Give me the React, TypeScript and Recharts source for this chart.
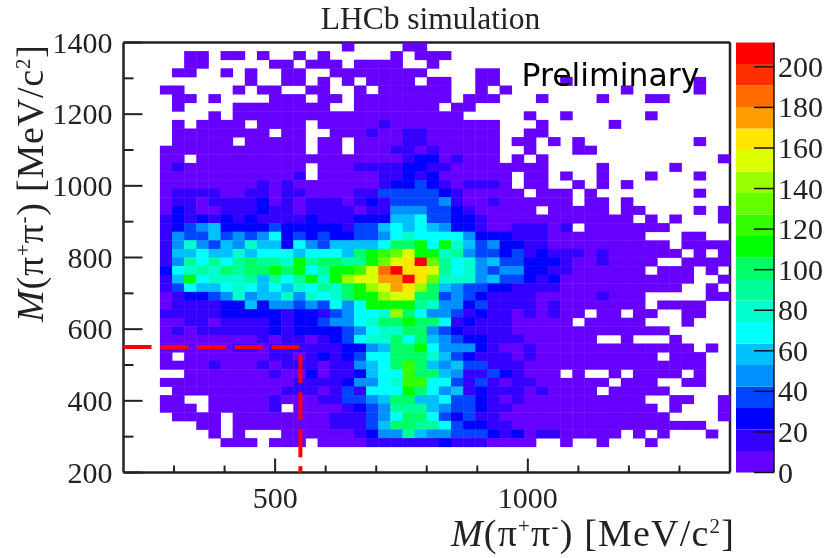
import { Bar, BarChart, Scatter, ScatterChart, XAxis, YAxis } from 'recharts';

// counts per bin, one array per row, named after the bin centre on the y axis (MeV)
// 24 MeV bins from 200 to 1400, columns left to right, 0 = empty bin
const m1388 = [0,0,0,0,0,0,0,0,0,0, 0,0,0,0,0,0,0,0,5,0, 0,0,0,5,5];
const m1364 = [0,0,0,0,0,5,5,0,5,5, 0,5,0,0,5,0,5,0,0,0, 0,0,5,0,5,5,5];
const m1340 = [0,0,0,0,0,5,5,0,0,0, 0,0,5,5,0,5,5,5,0,5, 5,5,5,0,0,5];
const m1316 = [0,0,0,0,5,5,0,0,5,0, 5,0,0,5,5,0,0,5,5,5, 5,5,5,5,5,0,0,0,0,5, 5];
const m1292 = [0,0,0,0,0,0,0,0,0,0, 5,0,0,5,5,0,5,0,5,0, 5,5,5,5,0,5,5,0,0,5, 5,0,0,0,0,0,5,0,0,0, 0,0,0,0,0,0,0,5];
const m1268 = [0,0,0,5,5,0,0,0,0,5, 0,5,5,0,0,5,5,0,0,5, 0,5,5,5,5,5,5,0,0,5, 0,5,0,0,0,0,0,0,0,0, 0,5,0,0,0,0,0,5];
const m1244 = [0,0,0,0,5,5,0,5,0,0, 0,0,5,5,5,0,5,5,0,5, 5,5,5,5,5,5,5,0,5,5, 5,0,0,0,5,0,0,0,0,5, 0,0,0,5,5];
const m1220 = [0,0,0,0,5,0,0,0,0,5, 5,5,5,5,5,5,5,0,0,5, 5,5,5,5,5,5,0,5,5];
const m1196 = [0,0,0,0,0,0,0,5,0,5, 5,5,5,5,5,5,5,5,5,5, 5,5,5,5,5,5,5,5,0,0, 0,0,0,5,0,0,5,0,0,0, 0,0,0,5];
const m1172 = [0,0,0,0,5,0,5,5,5,5, 0,5,5,5,5,0,5,5,5,5, 5,16,5,5,5,5,5,5,5,5, 5,0,0,0,5,0,0,0,0,0, 5];
const m1148 = [0,0,0,0,5,5,5,5,5,5, 5,5,0,5,5,0,0,5,5,5, 16,5,5,16,16,5,5,5,5,5, 5,0,0,5,5];
const m1124 = [0,0,0,0,5,5,5,5,5,0, 5,5,5,5,5,0,5,5,0,5, 5,5,5,16,16,5,5,5,5,5, 5,0,5,5,0,5,0,5,0,0, 0,0,0,0,0,0,0,5];
const m1100 = [0,0,0,5,5,5,5,5,5,5, 5,5,5,5,5,0,5,5,0,5, 5,5,16,16,5,16,5,5,5,5, 5,0,0,5,0,0,0,5,5];
const m1076 = [0,0,0,5,5,0,5,5,5,5, 5,5,5,5,5,5,5,5,5,5, 5,5,5,16,26,26,5,16,5,5, 5,0,5,0,5,0,0,0,0,0, 0,0,0,0,0,0,0,0,0,5];
const m1052 = [0,0,0,5,16,5,5,5,5,5, 5,5,5,5,5,0,5,5,5,16, 16,16,16,26,26,16,16,5,5,5, 5,5,5,5,5,0,0,0,0,5, 0,0,0,0,0,5];
const m1028 = [0,0,0,5,5,5,5,5,5,5, 5,5,5,5,16,0,5,5,5,5, 5,16,16,26,16,26,5,5,5,5, 5,5,0,5,5,0,5,0,0,5, 0,0,0,5,0,0,0,5];
const m1004 = [0,0,0,5,5,5,5,5,5,5, 5,16,5,16,5,5,5,5,5,5, 5,16,26,26,37,26,16,5,16,16, 16,5,0,5,5,0,0,5,0,5, 0,5];
const m980 = [0,0,0,5,16,16,16,16,5,5, 16,16,5,16,16,5,5,5,5,16, 16,37,37,37,37,37,26,16,5,5, 5,5,5,0,5,5,5,0,5,0, 0,0,0,0,0,0,0,5];
const m956 = [0,0,0,5,16,16,5,16,16,16, 16,26,5,16,5,16,16,16,5,16, 26,16,37,37,37,37,48,16,5,5, 16,5,5,5,5,5,5,0,5,5, 0,5];
const m932 = [0,0,0,5,26,16,5,5,16,16, 16,26,16,16,5,16,16,16,16,5, 16,16,48,48,48,37,37,26,16,5, 5,5,5,5,0,5,5,5,5,5, 0,5,5,0,0,0,0,5,0,5];
const m908 = [0,0,0,16,26,16,26,16,26,16, 26,16,16,16,16,26,16,16,16,26, 26,26,58,58,69,37,37,26,26,16, 5,5,5,5,5,5,5,5,5,5, 5,5,0,5,0,5,0,0,0,5];
const m884 = [0,0,0,16,26,37,48,58,26,26, 26,26,37,26,26,26,26,26,16,37, 37,58,69,58,69,58,48,26,26,16, 5,5,16,16,16,5,16,0,5,5, 5,5,5,5,5];
const m860 = [0,0,0,16,48,37,37,58,37,48, 37,48,69,26,37,26,37,26,26,37, 37,48,69,79,69,69,69,69,48,26, 26,26,16,16,16,5,5,5,5,5, 5,5,5,0,0,0,5,5];
const m836 = [0,0,0,16,48,79,48,37,58,48, 79,58,58,26,69,48,37,58,58,58, 58,69,101,101,111,69,111,79,58,37, 48,26,26,16,16,5,5,5,5,5, 5,5,5,5,5,0,5,5,5,5];
const m812 = [0,0,0,16,58,58,69,58,58,79, 58,69,69,69,58,69,69,69,58,101, 111,122,132,154,111,111,79,90,48,37, 37,26,37,16,26,16,16,16,5,16, 5,5,5,5,5,5,0,5,0,5];
const m788 = [0,0,0,16,48,90,69,90,69,90, 101,90,90,79,111,90,101,101,90,90, 111,132,154,164,207,132,90,69,79,48, 58,37,37,26,26,26,16,5,5,16, 5,5,5,5,0,0,5,5,5,5];
const m764 = [0,0,0,26,69,79,90,79,101,90, 101,101,111,101,111,69,90,111,111,122, 154,186,207,164,164,154,90,69,79,48, 37,48,48,26,26,16,16,5,5,5, 5,5,5,0,5,5,5,0,5];
const m740 = [0,0,0,16,58,111,69,79,79,79, 90,58,90,69,90,111,79,111,143,154, 154,175,175,207,164,132,79,79,79,48, 58,37,37,26,16,26,5,5,5,5, 5,5,5,5,5,5,5,0,0,5];
const m716 = [0,0,0,16,37,69,58,58,69,79, 69,58,69,58,79,69,90,79,101,111, 143,154,175,164,143,101,58,48,37,37, 26,26,16,16,16,16,5,5,5,5, 5,5,5,5,5,5,0,0,5];
const m692 = [0,0,0,5,16,26,26,37,48,79, 48,58,58,79,48,79,69,79,101,111, 111,143,154,154,101,101,37,48,37,26, 16,16,16,16,5,5,5,5,5,16, 5,5,5,0,0,0,0,0,5,5];
const m668 = [0,0,0,5,16,16,16,16,26,26, 58,26,48,48,37,48,37,69,48,69, 111,111,111,111,90,79,48,48,26,37, 16,16,16,16,5,16,5,5,5,5, 5,5,5,0,5,5,5,5];
const m644 = [0,0,0,16,16,16,16,16,26,26, 26,26,26,16,26,26,16,37,48,69, 69,79,143,101,69,48,48,37,16,26, 16,16,5,16,5,16,5,5,0,5, 5,0,5,5,0,0,5,5];
const m620 = [0,0,0,5,5,16,16,5,16,16, 16,16,26,16,26,26,37,48,48,69, 79,101,101,111,101,101,69,16,26,16, 16,16,5,5,5,5,5,0,5,5, 5,5,5,0,0,0,5];
const m596 = [0,0,0,5,16,5,16,16,16,16, 16,16,26,16,26,26,26,26,37,48, 69,79,79,101,101,48,37,26,16,16, 16,16,5,5,5,5,5,5,5,5, 5,5,5,5,5];
const m572 = [0,0,0,5,5,5,5,5,5,5, 5,16,5,16,16,5,16,26,37,69, 79,79,101,69,101,58,48,37,26,26, 16,16,16,5,5,5,5,5,5,0, 0,5,0,0,0,5];
const m548 = [0,0,0,5,5,5,5,5,5,16, 16,5,16,16,16,16,16,16,26,26, 48,58,101,101,111,69,48,48,48,26, 16,5,5,16,5,5,5,5,5,5, 5,5,5,5,5,5,5,0,5];
const m524 = [0,0,0,5,0,5,5,5,5,5, 5,5,16,16,5,16,26,16,26,37, 69,69,101,101,101,79,58,37,26,16, 16,16,5,16,5,5,5,5,5,5, 5,5,5,5,0,5,5,5];
const m500 = [0,0,0,5,5,5,5,16,5,5, 5,16,5,16,16,16,5,16,16,48, 58,69,101,122,101,58,48,58,37,37, 16,16,16,5,5,5,5,5,5,5, 5,5,5,5,5,5,5,5];
const m476 = [0,0,0,0,0,5,5,5,5,5, 5,5,16,5,5,26,5,16,16,26, 58,69,69,122,101,101,58,48,16,16, 37,26,16,5,5,5,0,5,0,0, 5,0,5,5,5,5,0,5];
const m452 = [0,0,0,5,5,5,5,5,5,5, 5,5,5,5,16,16,16,16,26,48, 48,69,79,122,122,69,69,37,16,37, 16,5,16,16,5,5,5,5,5,5, 0,5,5,5,0,0,5,5];
const m428 = [0,0,0,0,5,5,5,5,5,5, 5,5,5,16,16,16,5,16,37,16, 69,69,69,111,101,69,48,58,16,26, 16,16,16,5,16,5,5,5,5,0, 5,5,5,5,5];
const m404 = [0,0,0,5,5,0,0,5,5,5, 5,5,16,5,5,5,16,16,37,37, 48,58,101,101,58,58,69,37,37,26, 16,5,16,5,5,5,5,5,5,5, 5,5,5,0,0,5,5,0,0,5];
const m380 = [0,0,0,5,5,5,0,5,5,5, 5,5,16,0,5,5,5,5,16,26, 37,48,90,90,90,58,48,37,37,26, 16,16,5,5,5,5,5,5,5,5, 5,5,5,5,0,5,0,0,0,5];
const m356 = [0,0,0,0,5,5,5,5,0,5, 5,5,5,5,5,5,5,16,16,16, 37,48,69,101,101,69,37,26,37,16, 16,5,5,5,5,5,5,5,5,5, 5,5,5,5,5,0,0,0,0,5];
const m332 = [0,0,0,0,0,0,5,5,0,5, 5,5,5,5,5,5,5,16,16,16, 37,58,101,101,90,90,69,37,26,26, 16,16,5,5,5,5,5,5,5,5, 5,5,5,5,5,5,5,5];
const m308 = [0,0,0,0,0,0,0,5,0,5, 0,0,0,5,5,5,5,5,5,16, 26,48,48,90,58,48,48,37,37,37, 26,16,26,5,16,16,5,5,5,5, 5,0,5,0,5,0,0,0,5];
const m284 = [0,0,0,0,0,0,0,0,5,5, 5,0,5,5,5,0,5,5,5,5, 16,16,16,16,16,16,26,16,16,16, 5,5,5,5,0,0,5,0,0,5, 0,0,0,5];

const rows = [
  m1388, m1364, m1340, m1316, m1292, m1268, m1244, m1220, m1196, m1172, m1148, m1124,
  m1100, m1076, m1052, m1028, m1004, m980, m956, m932, m908, m884, m860, m836, m812,
  m788, m764, m740, m716, m692, m668, m644, m620, m596, m572, m548, m524, m500, m476,
  m452, m428, m404, m380, m356, m332, m308, m284,
];
const rowCentres = [
  1388, 1364, 1340, 1316, 1292, 1268, 1244, 1220, 1196, 1172, 1148, 1124,
  1100, 1076, 1052, 1028, 1004, 980, 956, 932, 908, 884, 860, 836, 812,
  788, 764, 740, 716, 692, 668, 644, 620, 596, 572, 548, 524, 500, 476,
  452, 428, 404, 380, 356, 332, 308, 284,
];

// the red cut lines
const cutX = [200, 550, 550];
const cutY = [550, 550, 200];

// palette of the colour bar, lowest band first
const bandColors = [
  '#6600ff', '#3300ff', '#0000ff', '#0044ff', '#0090ff', '#00c0ff', '#00ffff', '#00ffcc', '#00ff99', '#00ff66',
  '#00ff00', '#33ff00', '#66ff00', '#99ff00', '#dcff00', '#ffe600', '#ff9c00', '#ff6c00', '#ff3000', '#ff0000',
];
const bandStep = 10.6;
const zMax = 212;
const zTicks = [0, 20, 40, 60, 80, 100, 120, 140, 160, 180, 200];

const massTicksX = [300, 400, 500, 600, 700, 800, 900, 1000, 1100, 1200, 1300];
const massLabelsX = [500, 1000];
const massTicksY = [200, 250, 300, 350, 400, 450, 500, 550, 600, 650, 700, 750, 800, 850, 900, 950, 1000, 1050, 1100, 1150, 1200, 1250, 1300, 1350, 1400];
const massLabelsY = [200, 400, 600, 800, 1000, 1200, 1400];

const binWidth = 24;
const firstCentre = 212;

const cells = rows.flatMap((row, r) =>
  row.flatMap((count, c) =>
    count > 0 ? [{ x: firstCentre + c * binWidth, y: rowCentres[r], count }] : [],
  ),
);
const cutPoints = cutX.map((x, i) => ({ x, y: cutY[i] }));
const bandRow = [{ name: 'z', ...Object.fromEntries(bandColors.map((_, i) => [`b${i}`, bandStep])) }];

const W = 826;
const H = 558;
const plot = { left: 123.5, right: 730, top: 42.5, bottom: 472.5 };
const cellW = (plot.right - plot.left) / 50;
const cellH = (plot.bottom - plot.top) / 50;

const frame = '#222';
const serif = '"Liberation Serif", serif';

const HeatCell = (props: any) => {
  const { cx, cy, payload } = props;
  const band = Math.min(bandColors.length - 1, Math.floor(payload.count / bandStep));
  return <rect x={cx - cellW / 2} y={cy - cellH / 2} width={cellW + 0.4} height={cellH + 0.4} fill={bandColors[band]} />;
};

const tickText = { fontFamily: serif, fontSize: 30, fill: '#222' };

const BottomTick = ({ x, y, payload }: any) => {
  const major = massLabelsX.includes(payload.value);
  return (
    <g>
      <line x1={x} x2={x} y1={y} y2={y - (major ? 14 : 7)} stroke={frame} strokeWidth={2} />
      {major && <text x={x} y={y + 35} textAnchor="middle" {...tickText}>{payload.value}</text>}
    </g>
  );
};

const TopTick = ({ x, y, payload }: any) => {
  const major = massLabelsX.includes(payload.value);
  return <line x1={x} x2={x} y1={y} y2={y + (major ? 14 : 7)} stroke={frame} strokeWidth={2} />;
};

const LeftTick = ({ x, y, payload }: any) => {
  const major = massLabelsY.includes(payload.value);
  return (
    <g>
      <line x1={x} x2={x + (major ? 19 : 10)} y1={y} y2={y} stroke={frame} strokeWidth={2} />
      {major && <text x={x - 11} y={y + 10} textAnchor="end" {...tickText}>{payload.value}</text>}
    </g>
  );
};

const RightTick = ({ x, y, payload }: any) => {
  const major = massLabelsY.includes(payload.value);
  return <line x1={x} x2={x - (major ? 19 : 10)} y1={y} y2={y} stroke={frame} strokeWidth={2} />;
};

const BarTick = ({ x, y, payload }: any) => (
  <g>
    <line x1={x} x2={x - 20} y1={y} y2={y} stroke="#111" strokeWidth={1.5} />
    <text x={x + 4} y={y + 10} textAnchor="start" {...tickText}>{payload.value}</text>
  </g>
);

const MassTitle = ({ size }: { size: number }) => (
  <>
    <tspan fontStyle="italic">M</tspan>
    <tspan>(π</tspan>
    <tspan dy={-size * 0.33} fontSize={size * 0.55}>+</tspan>
    <tspan dy={size * 0.33}>π</tspan>
    <tspan dy={-size * 0.33} fontSize={size * 0.55}>-</tspan>
    <tspan dy={size * 0.33}>) [MeV/c</tspan>
    <tspan dy={-size * 0.33} fontSize={size * 0.55}>2</tspan>
    <tspan dy={size * 0.33}>]</tspan>
  </>
);

const App = () => {
  return (
    <div style={{ position: 'absolute', left: 0, top: 0, width: W, height: H, background: '#fff', filter: 'blur(0.4px)' }}>
      <div style={{ position: 'absolute', left: 0, top: 0 }}>
        <ScatterChart
          width={W}
          height={H}
          margin={{ top: plot.top - 1, right: W - plot.right - 1, bottom: 0, left: 0 }}
        >
          <XAxis
            xAxisId="top"
            orientation="top"
            type="number"
            dataKey="x"
            domain={[200, 1400]}
            ticks={massTicksX}
            height={1}
            tickSize={0}
            tickMargin={0}
            tick={TopTick}
            axisLine={{ stroke: frame, strokeWidth: 2.5 }}
          />
          <XAxis
            xAxisId="bottom"
            type="number"
            dataKey="x"
            domain={[200, 1400]}
            ticks={massTicksX}
            height={H - plot.bottom}
            tickSize={0}
            tickMargin={0}
            tick={BottomTick}
            axisLine={{ stroke: frame, strokeWidth: 2.5 }}
          />
          <YAxis
            yAxisId="left"
            type="number"
            dataKey="y"
            domain={[200, 1400]}
            ticks={massTicksY}
            width={plot.left}
            tickSize={0}
            tickMargin={0}
            tick={LeftTick}
            axisLine={{ stroke: frame, strokeWidth: 2.5 }}
          />
          <YAxis
            yAxisId="right"
            orientation="right"
            type="number"
            dataKey="y"
            domain={[200, 1400]}
            ticks={massTicksY}
            width={1}
            tickSize={0}
            tickMargin={0}
            tick={RightTick}
            axisLine={{ stroke: frame, strokeWidth: 2.5 }}
          />
          <Scatter
            data={cells}
            xAxisId="bottom"
            yAxisId="left"
            shape={HeatCell}
            isAnimationActive={false}
          />
          <Scatter
            data={cutPoints}
            xAxisId="bottom"
            yAxisId="left"
            shape={() => <g />}
            stroke="#ff0000"
            strokeWidth={4}
            strokeDasharray="28 9"
            line={{ stroke: '#ff0000', strokeWidth: 4, strokeDasharray: '28 9' }}
            isAnimationActive={false}
          />
        </ScatterChart>
      </div>

      <div style={{ position: 'absolute', left: 736, top: 0 }}>
        <BarChart
          width={W - 736}
          height={H}
          data={bandRow}
          barCategoryGap={0}
          margin={{ top: plot.top, right: 0, bottom: H - plot.bottom, left: 0 }}
        >
          <XAxis hide dataKey="name" />
          <YAxis
            orientation="right"
            type="number"
            domain={[0, zMax]}
            ticks={zTicks}
            width={W - 774}
            tickSize={0}
            tickMargin={0}
            tick={BarTick}
            axisLine={{ stroke: '#111', strokeWidth: 1.5 }}
          />
          {bandColors.map((color, i) => (
            <Bar key={color} dataKey={`b${i}`} stackId="z" fill={color} isAnimationActive={false} />
          ))}
        </BarChart>
      </div>

      <svg width={W} height={H} style={{ position: 'absolute', left: 0, top: 0, pointerEvents: 'none' }}>
        <text x={430.5} y={29} textAnchor="middle" fontFamily={serif} fontSize={31.5} fill="#222">LHCb simulation</text>
        <text x={521.5} y={86} fontFamily='"DejaVu Sans", sans-serif' fontSize={31.5} fill="#000">Preliminary</text>
        <text x={451} y={546} fontFamily={serif} fontSize={38} letterSpacing={1.2} fill="#222"><MassTitle size={38} /></text>
        <text transform="translate(43,322) rotate(-90)" fontFamily={serif} fontSize={38} letterSpacing={0.8} fill="#222"><MassTitle size={38} /></text>
      </svg>
    </div>
  );
};

export default App;
